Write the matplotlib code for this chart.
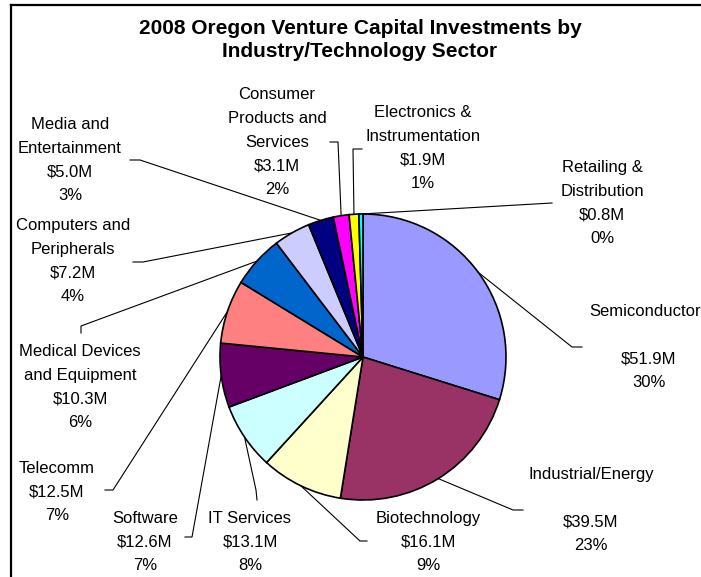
import numpy as np
import matplotlib
matplotlib.use("Agg")
import matplotlib.pyplot as plt
from matplotlib.lines import Line2D

# ---- data ----
categories = ["Semiconductors", "Industrial/Energy", "Biotechnology", "IT Services",
              "Software", "Telecomm", "Medical Devices\nand Equipment",
              "Computers and\nPeripherals", "Media and\nEntertainment",
              "Consumer\nProducts and\nServices", "Electronics &\nInstrumentation",
              "Retailing &\nDistribution"]
values = [51.9, 39.5, 16.1, 13.1, 12.6, 12.5, 10.3, 7.2, 5.0, 3.1, 1.9, 0.8]
title = "2008 Oregon Venture Capital Investments by\nIndustry/Technology Sector"

# ---- styles / layout ----
colors = ["#9999FF", "#993366", "#FFFFCC", "#CCFFFF", "#660066", "#FF8080",
          "#0066CC", "#CCCCFF", "#000080", "#FF00FF", "#FFFF00", "#00FFFF"]
W, H = 701, 577
FONT = "Liberation Sans"
STEP = 23.7
# label placement: (center x, first-line caps-centre y) in pixels from top-left
label_pos = [(649, 310), (591, 473), (428, 517), (250, 517), (145, 517), (57, 467),
             (80, 350), (73, 224), (70, 123), (277, 93), (423, 111), (602, 166)]
# leader line start & elbow in pixels
leader = [((582, 347), (572, 347)), ((523, 510), (513, 510)), ((367, 541), (360, 541)),
          ((257, 500), (256, 490)), ((185, 537), (192, 537)), ((105, 490), (113, 490)),
          ((81, 333), (81, 326)), ((133, 262), (143, 262)), ((130, 160), (140, 160)),
          ((330, 142), (338, 142)), ((362, 149), (353, 149)), ((552, 203), (552, 203))]
gap_after_name = {0, 1}

cx, cy_pix, R = 363, 357, 143

fig = plt.figure(figsize=(W / 100, H / 100), dpi=100)
ax = fig.add_axes([0, 0, 1, 1])

def py(y):
    return H - y

wedges, _ = ax.pie(values, colors=colors, startangle=90, counterclock=False,
                   center=(cx, py(cy_pix)), radius=R,
                   wedgeprops=dict(edgecolor="black", linewidth=1.2))
ax.set_xlim(0, W)
ax.set_ylim(0, H)
ax.set_aspect("equal")
ax.axis("off")

total = sum(values)
for i, (cat, v) in enumerate(zip(categories, values)):
    pct = int(round(v / total * 100))
    lines = cat + ("\n" if i in gap_after_name else "") + f"\n${v:.1f}M\n{pct}%"
    n = lines.count("\n") + 1
    x, y = label_pos[i]
    # va='baseline' aligns the last line's baseline
    ax.text(x, py(y + 6 + (n - 1) * STEP), lines, ha="center", va="baseline",
            multialignment="center", fontsize=12, family=FONT, linespacing=1.72,
            color="black")
    # leader line to wedge mid-angle on the edge
    w = wedges[i]
    mid = np.deg2rad((w.theta1 + w.theta2) / 2)
    ex = cx + R * np.cos(mid)
    ey = py(cy_pix) + R * np.sin(mid)
    (sx, sy), (bx, by) = leader[i]
    ax.plot([sx, bx, ex], [py(sy), py(by), ey], color="black", lw=0.8,
            solid_joinstyle="miter")

ax.text(360, py(57), title, ha="center", va="baseline", multialignment="center",
        fontsize=15, fontweight="bold", family=FONT, linespacing=1.3)

# chart border (top & left visible)
ax.add_line(Line2D([11, W + 5], [py(5), py(5)], color="black", lw=1.6, clip_on=False))
ax.add_line(Line2D([11, 11], [py(5), -5], color="black", lw=1.6, clip_on=False))

fig.savefig("out.png", dpi=100)
